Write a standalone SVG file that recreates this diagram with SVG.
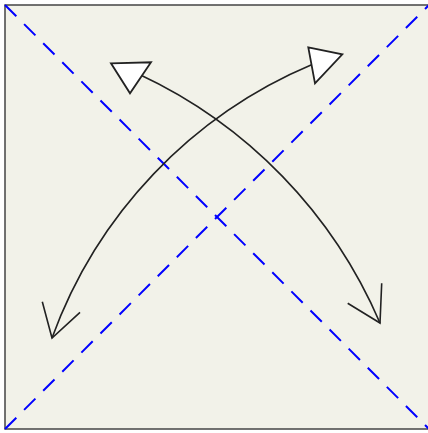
<svg xmlns="http://www.w3.org/2000/svg" width="428" height="433" viewBox="0 0 428 433">
<style>
.frame{fill:#f2f2e9;stroke:#444444;stroke-width:1.5}
.diag{stroke:#0000ff;stroke-width:2;stroke-dasharray:16 11;fill:none}
.curve{fill:none;stroke:#222222;stroke-width:1.6}
.open{fill:none;stroke:#222222;stroke-width:1.6;stroke-linejoin:miter}
.tri{fill:#ffffff;stroke:#222222;stroke-width:1.8;stroke-linejoin:miter}
</style>
<rect width="428" height="433" fill="#ffffff"/>
<g id="frame">
<rect class="frame" x="5" y="5" width="425" height="424"/>
</g>
<g id="diagonals">
<line class="diag" x1="5" y1="5" x2="429" y2="429"/>
<line class="diag" x1="5" y1="429" x2="429" y2="5"/>
</g>
<g id="connectors">
<g id="arrow1">
<path class="curve" d="M52 338 A471 471 0 0 1 312.7 64.3"/>
<path class="open" d="M42.3 301.7 L52 338 L80 312.3"/>
<path class="tri" d="M308.3 47.3 L342.3 54.3 L315 83.3 Z"/>
</g>
<g id="arrow2">
<path class="curve" d="M380 323 A485 485 0 0 0 139 74.3"/>
<path class="open" d="M381.7 283.3 L380 323 L347.7 303.3"/>
<path class="tri" d="M111 63.3 L151 62.3 L130 93.3 Z"/>
</g>
</g>
</svg>
